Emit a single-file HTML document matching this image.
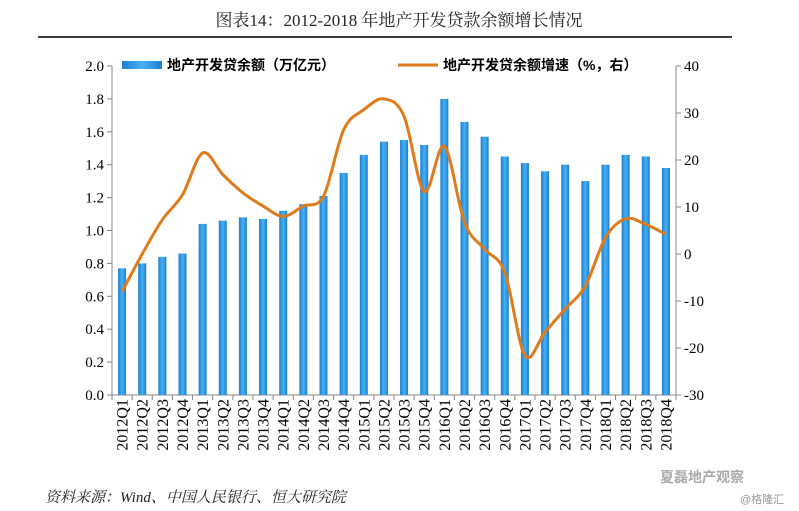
<!DOCTYPE html>
<html><head><meta charset="utf-8"><style>
body{margin:0;background:#fff;width:799px;height:511px;overflow:hidden;font-family:"Liberation Serif","Noto Serif CJK SC",serif;}
svg{display:block}
</style></head><body>
<svg id="c" width="799" height="511">
<defs><linearGradient id="bg" x1="0" x2="1"><stop offset="0" stop-color="#1a7fd0"/><stop offset="0.5" stop-color="#47b0f5"/><stop offset="1" stop-color="#1a7fd0"/></linearGradient></defs>
<text x="399" y="26" text-anchor="middle" font-size="17" fill="#222">图表14：2012-2018 年地产开发贷款余额增长情况</text>
<line x1="38" y1="37" x2="732" y2="37" stroke="#000" stroke-width="1.5"/>
<g id="axes"></g><g id="bars"></g><g id="line"></g>
<g>
<rect x="122" y="61" width="40" height="8" fill="url(#bg)"/>
<text x="167" y="70" font-size="14" font-weight="bold" font-family="Liberation Sans,Noto Sans CJK SC,sans-serif">地产开发贷余额（万亿元）</text>
<line x1="398" y1="65" x2="438" y2="65" stroke="#e07b1c" stroke-width="3"/>
<text x="443" y="70" font-size="14" font-weight="bold" font-family="Liberation Sans,Noto Sans CJK SC,sans-serif">地产开发贷余额增速（%，右）</text>
</g>
<text x="45" y="502" font-size="15" font-style="italic" fill="#222">资料来源：Wind、中国人民银行、恒大研究院</text>
<text x="660" y="482" font-size="14" font-weight="bold" fill="#aaa" font-family="Liberation Sans,Noto Sans CJK SC,sans-serif">夏磊地产观察</text>
<text x="740" y="503" font-size="11" fill="#999" font-family="Liberation Sans,Noto Sans CJK SC,sans-serif">@格隆汇</text>
</svg>
<script>
const categories=["2012Q1","2012Q2","2012Q3","2012Q4","2013Q1","2013Q2","2013Q3","2013Q4","2014Q1","2014Q2","2014Q3","2014Q4","2015Q1","2015Q2","2015Q3","2015Q4","2016Q1","2016Q2","2016Q3","2016Q4","2017Q1","2017Q2","2017Q3","2017Q4","2018Q1","2018Q2","2018Q3","2018Q4"];
const balance=[0.77,0.80,0.84,0.86,1.04,1.06,1.08,1.07,1.12,1.16,1.21,1.35,1.46,1.54,1.55,1.52,1.80,1.66,1.57,1.45,1.41,1.36,1.40,1.30,1.40,1.46,1.45,1.38];
const growth=[-8,0,7.3,12.6,21.5,16.9,13,10.2,8,10.2,12.3,26.4,30.7,33,29.3,13.3,22.9,6.7,1,-3.9,-21.6,-16.6,-11.7,-6.8,3.5,7.5,6.3,4.2];
const leftTicks=["0.0","0.2","0.4","0.6","0.8","1.0","1.2","1.4","1.6","1.8","2.0"];
const rightTicks=["-30","-20","-10","0","10","20","30","40"];
const L=112,R=676,T=66,B=395,NS="http://www.w3.org/2000/svg";
const yL=v=>B-(v/2)*(B-T);
const yR=v=>B-((v+30)/70)*(B-T);
const step=(R-L)/categories.length;
const xC=i=>L+step*(i+0.5);
function mk(t,a,p){const e=document.createElementNS(NS,t);for(const k in a)e.setAttribute(k,a[k]);p.appendChild(e);return e;}
const ax=document.getElementById('axes'),bg=document.getElementById('bars'),lg=document.getElementById('line');
const la=mk('line',{x1:L,y1:T,x2:L,y2:B,stroke:'#888'},ax);


const ra=mk('line',{x1:R,y1:T,x2:R,y2:B,stroke:'#888'},ax);


const xa=mk('line',{x1:L,y1:B,x2:R,y2:B,stroke:'#888'},ax);


leftTicks.forEach(t=>{const y=yL(parseFloat(t));
mk('line',{x1:L-5,y1:y,x2:L,y2:y,stroke:'#888'},ax);
const e=mk('text',{x:L-8,y:y+5,'text-anchor':'end','font-size':15},ax);e.textContent=t;

});
rightTicks.forEach(t=>{const y=yR(parseFloat(t));
mk('line',{x1:R,y1:y,x2:R+5,y2:y,stroke:'#888'},ax);
const e=mk('text',{x:R+8,y:y+5,'font-size':15},ax);e.textContent=t;

});
categories.forEach((c,i)=>{const x=L+step*i;
mk('line',{x1:x,y1:B,x2:x,y2:B+5,stroke:'#888'},ax);
const e=mk('text',{x:0,y:0,'text-anchor':'end','font-size':16,transform:`translate(${xC(i)+5.5},${B+4}) rotate(-90)`},ax);e.textContent=c;


const b=mk('rect',{x:xC(i)-4,y:yL(balance[i]),width:8,height:B-yL(balance[i]),fill:'url(#bg)'},bg);

});
mk('line',{x1:R,y1:B,x2:R,y2:B+5,stroke:'#888'},ax);
const P=growth.map((v,i)=>[xC(i),yR(v)]);
let d=`M${P[0][0]},${P[0][1]}`;
for(let i=0;i<P.length-1;i++){const p0=P[i-1]||P[i],p1=P[i],p2=P[i+1],p3=P[i+2]||P[i+1];
d+=` C${p1[0]+(p2[0]-p0[0])/6},${p1[1]+(p2[1]-p0[1])/6} ${p2[0]-(p3[0]-p1[0])/6},${p2[1]-(p3[1]-p1[1])/6} ${p2[0]},${p2[1]}`;}
const pl=mk('path',{d:d,fill:'none',stroke:'#e07b1c','stroke-width':3},lg);


</script>
</body></html>
